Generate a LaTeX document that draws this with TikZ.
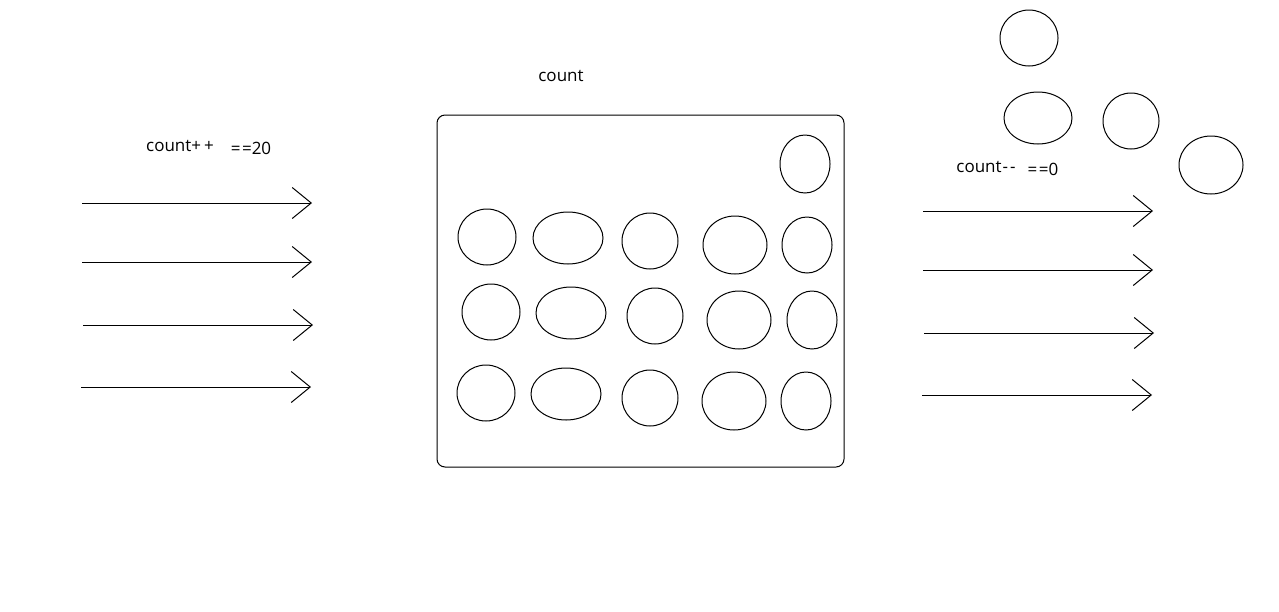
\documentclass[tikz,border=0pt]{standalone}
\usepackage{fontspec}
\setmainfont{Open Sans}
\usetikzlibrary{arrows.meta,shapes.geometric}
\tikzset{
  ball/.style={draw,ellipse,line width=1pt,inner sep=0pt},
  flow/.style={line width=1pt,-{Straight Barb[length=19pt,width=31pt,line width=1pt]}},
  lbl/.style={font=\fontsize{17}{20}\selectfont,inner sep=0pt}
}
\newcommand{\ballat}[5]{\node[ball,minimum width=#4pt,minimum height=#5pt] (#1) at (#2,#3) {};}
\begin{document}
\begin{tikzpicture}[x=1pt,y=-1pt]
\useasboundingbox[fill=white] (0,0) rectangle (1279,611);
% box
\node[draw,line width=1pt,rounded corners=8pt,minimum width=407pt,minimum height=352pt,inner sep=0pt] (box) at (640.5,291) {};
\node[lbl] (title) at (561,76) {count};
\node[lbl] (inc) at (180,146) {count+\kern3pt+};
\node[lbl] (eq20) at (251,148) {=\kern1.5pt=20};
\node[lbl] (dec) at (986,167) {count\kern1pt{-}\kern2pt{-}};
\node[lbl] (eq0) at (1043,169) {=\kern1.5pt=0};
% balls inside
\ballat{b0}{805}{164}{50}{58}
\ballat{b11}{487}{237}{58}{56}
\ballat{b12}{568}{238}{70}{52}
\ballat{b13}{650}{241}{56}{56}
\ballat{b14}{735}{245}{64}{58}
\ballat{b15}{807}{245}{50}{56}
\ballat{b21}{491}{312}{58}{56}
\ballat{b22}{571}{313}{70}{52}
\ballat{b23}{655}{316}{56}{56}
\ballat{b24}{739}{320}{64}{58}
\ballat{b25}{812}{320}{50}{58}
\ballat{b31}{486}{393}{58}{56}
\ballat{b32}{566}{394}{70}{52}
\ballat{b33}{650}{398}{56}{56}
\ballat{b34}{734}{401}{64}{58}
\ballat{b35}{806}{401}{50}{58}
% balls outside
\ballat{o1}{1029}{38}{58}{56}
\ballat{o2}{1038}{118}{68}{52}
\ballat{o3}{1131}{121}{56}{56}
\ballat{o4}{1211}{165}{64}{58}
% arrows left
\coordinate (l1s) at (82,203); \coordinate (l1e) at (312,203);
\coordinate (l2s) at (82,262); \coordinate (l2e) at (312,262);
\coordinate (l3s) at (83,325); \coordinate (l3e) at (313,325);
\coordinate (l4s) at (81,387); \coordinate (l4e) at (311,387);
\draw[flow] (l1s) -- (l1e);
\draw[flow] (l2s) -- (l2e);
\draw[flow] (l3s) -- (l3e);
\draw[flow] (l4s) -- (l4e);
% arrows right
\coordinate (r1s) at (923,211); \coordinate (r1e) at (1153,211);
\coordinate (r2s) at (923,270); \coordinate (r2e) at (1153,270);
\coordinate (r3s) at (924,333); \coordinate (r3e) at (1154,333);
\coordinate (r4s) at (922,395); \coordinate (r4e) at (1152,395);
\draw[flow] (r1s) -- (r1e);
\draw[flow] (r2s) -- (r2e);
\draw[flow] (r3s) -- (r3e);
\draw[flow] (r4s) -- (r4e);
\end{tikzpicture}
\end{document}
